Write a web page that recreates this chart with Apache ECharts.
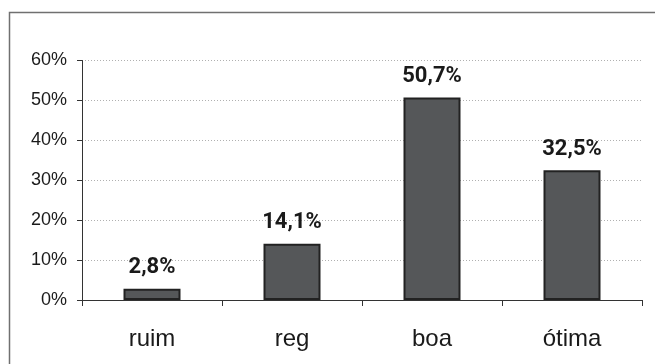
<!DOCTYPE html>
<html>
<head>
<meta charset="utf-8">
<script src="https://cdn.jsdelivr.net/npm/echarts@6/dist/echarts.min.js"></script>
<style>
  html, body { margin: 0; padding: 0; background: #fff; }
  #chart { width: 655px; height: 364px; }
</style>
</head>
<body>
<div id="chart"></div>
<script>
// Avaliação: percentual de respostas por categoria
const categories = ['ruim', 'reg', 'boa', 'ótima'];
const percentValues = [2.8, 14.1, 50.7, 32.5];
const yTicks = [0, 10, 20, 30, 40, 50, 60];

const chart = echarts.init(document.getElementById('chart'), null, { renderer: 'canvas' });

const fmtPct = v => String(v).replace('.', ',') + '%';

chart.setOption({
  animation: false,
  backgroundColor: '#ffffff',
  graphic: [{
    type: 'rect',
    shape: { x: 9.5, y: 12.5, width: 700, height: 400 },
    style: { fill: 'none', stroke: '#707070', lineWidth: 1.5 },
    silent: true,
    z: -1
  }],
  grid: { left: 82, right: 13, top: 60.5, bottom: 64, containLabel: false },
  xAxis: {
    type: 'category',
    data: categories,
    boundaryGap: true,
    axisLine: { lineStyle: { color: '#333', width: 1 } },
    axisTick: { show: true, length: 6, inside: false, lineStyle: { color: '#333' } },
    axisLabel: {
      color: '#1a1a1a',
      fontFamily: 'Liberation Sans, Arial, sans-serif',
      fontSize: 24,
      margin: 27
    },
    splitLine: { show: false }
  },
  yAxis: {
    type: 'value',
    min: yTicks[0],
    max: yTicks[yTicks.length - 1],
    interval: 10,
    axisLine: { show: true, lineStyle: { color: '#333', width: 1 } },
    axisTick: { show: true, length: 5, lineStyle: { color: '#333' } },
    axisLabel: {
      color: '#1a1a1a',
      fontFamily: 'Liberation Sans, Arial, sans-serif',
      fontSize: 18,
      margin: 15,
      formatter: v => v + '%'
    },
    splitLine: { show: true, lineStyle: { color: '#b0b0b0', type: [1, 2], width: 1 } }
  },
  series: [{
    type: 'bar',
    data: percentValues,
    barWidth: 57,
    itemStyle: { color: '#555759', borderColor: '#222', borderWidth: 2 },
    label: {
      show: true,
      position: 'top',
      distance: 10,
      color: '#1a1a1a',
      fontFamily: 'Roboto, Liberation Sans, sans-serif',
      fontWeight: 'bold',
      fontSize: 22,
      formatter: p => fmtPct(p.value)
    }
  }]
});
</script>
</body>
</html>
